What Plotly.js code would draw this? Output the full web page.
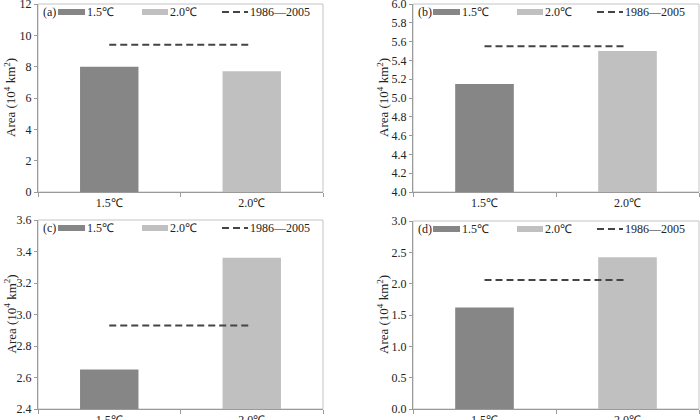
<!DOCTYPE html>
<html>
<head>
<meta charset="utf-8">
<script src="https://cdn.plot.ly/plotly-3.0.1.min.js"></script>
<style>html,body{margin:0;padding:0;background:#fff;}#chart{width:700px;height:420px;}</style>
</head>
<body>
<div id="chart"></div>
<script>
// ---- data ----
const categories = ['1.5℃', '2.0℃'];
const panelLabels = ['(a)', '(b)', '(c)', '(d)'];
const area15 = [8.0, 5.15, 2.65, 1.62];
const area20 = [7.7, 5.5, 3.36, 2.42];
const baseline = [9.4, 5.55, 2.93, 2.06];
const legendNames = ['1.5℃', '2.0℃', '1986—2005'];
const yMin = [0, 4.0, 2.4, 0.0];
const yMax = [12, 6.0, 3.6, 3.0];
const yStep = [2, 0.2, 0.2, 0.5];
const yFormat = ['d', '.1f', '.1f', '.1f'];
const yTitle = 'Area (10<sup>4</sup> km<sup>2</sup>)';

// ---- style / layout ----
const W = 700, H = 420;
const c15 = '#868686', c20 = '#c0c0c0', cLine = '#444444';
const FONT = 'Liberation Serif, Times New Roman, serif';
// plot boxes in px: [left, right, top, bottom]
const boxes = [[38, 323, 4, 192], [413, 699, 4, 192], [38, 323, 220, 409], [413, 699, 221, 409]];
const titleX = [10, 383, 10, 383];

const px = x => x / W;
const py = y => 1 - y / H;

const data = [];
const layout = {
  width: W, height: H,
  margin: {l: 0, r: 0, t: 0, b: 0},
  paper_bgcolor: '#fff', plot_bgcolor: '#fff',
  showlegend: false,
  font: {family: FONT, color: '#222', size: 11},
  shapes: [], annotations: []
};

for (let i = 0; i < 4; i++) {
  const [L, R, T, B] = boxes[i];
  const xa = i === 0 ? 'x' : 'x' + (i + 1);
  const ya = i === 0 ? 'y' : 'y' + (i + 1);
  const xk = i === 0 ? 'xaxis' : 'xaxis' + (i + 1);
  const yk = i === 0 ? 'yaxis' : 'yaxis' + (i + 1);

  data.push({
    type: 'bar', x: categories, y: [area15[i], area20[i]],
    width: 0.41,
    marker: {color: [c15, c20], line: {width: 0}},
    xaxis: xa, yaxis: ya, hoverinfo: 'none'
  });
  data.push({
    type: 'scatter', mode: 'lines', x: categories, y: [baseline[i], baseline[i]],
    line: {color: cLine, width: 2, dash: '7px,4px'},
    xaxis: xa, yaxis: ya, hoverinfo: 'none'
  });

  layout[xk] = {
    domain: [px(L), px(R)], anchor: ya, type: 'category',
    range: [-0.5, 1.5], showgrid: false, zeroline: false,
    showline: true, linecolor: '#9a9a9a', linewidth: 1,
    ticks: 'outside', tickson: 'boundaries', ticklen: 4, tickcolor: '#9a9a9a',
    ticklabeloverflow: 'allow',
    tickfont: {family: FONT, size: 12, color: '#222'}, automargin: false, fixedrange: true
  };
  layout[yk] = {
    domain: [py(B), py(T)], anchor: xa,
    range: [yMin[i], yMax[i]], dtick: yStep[i], tick0: yMin[i], tickformat: yFormat[i],
    showgrid: false, zeroline: false,
    showline: true, linecolor: '#9a9a9a', linewidth: 1,
    ticks: 'outside', ticklen: 3, tickcolor: '#9a9a9a',
    ticklabeloverflow: 'allow',
    tickfont: {family: FONT, size: 12, color: '#222'}, automargin: false, fixedrange: true
  };

  // light box top/right
  layout.shapes.push({type: 'rect', xref: 'paper', yref: 'paper',
    x0: px(L), x1: px(R), y0: py(B), y1: py(T), line: {color: '#c4c4c4', width: 1}, layer: 'below'});

  // y title
  layout.annotations.push({xref: 'paper', yref: 'paper', x: px(titleX[i]), y: py((T + B) / 2),
    text: yTitle, textangle: -90, showarrow: false, font: {family: FONT, size: 13, color: '#222'},
    xanchor: 'center', yanchor: 'middle'});

  // legend (drawn in px offsets from panel left)
  const ly = T + 8;
  layout.annotations.push({xref: 'paper', yref: 'paper', x: px(L + 3), y: py(ly), text: panelLabels[i],
    showarrow: false, xanchor: 'left', yanchor: 'middle', font: {family: FONT, size: 12, color: '#222'}});
  layout.shapes.push({type: 'rect', xref: 'paper', yref: 'paper', x0: px(L + 20), x1: px(L + 47),
    y0: py(ly + 3), y1: py(ly - 3), fillcolor: c15, line: {width: 0}});
  layout.annotations.push({xref: 'paper', yref: 'paper', x: px(L + 47), y: py(ly), text: legendNames[0],
    showarrow: false, xanchor: 'left', yanchor: 'middle', font: {family: FONT, size: 12, color: '#222'}});
  layout.shapes.push({type: 'rect', xref: 'paper', yref: 'paper', x0: px(L + 104), x1: px(L + 130),
    y0: py(ly + 3), y1: py(ly - 3), fillcolor: c20, line: {width: 0}});
  layout.annotations.push({xref: 'paper', yref: 'paper', x: px(L + 130), y: py(ly), text: legendNames[1],
    showarrow: false, xanchor: 'left', yanchor: 'middle', font: {family: FONT, size: 12, color: '#222'}});
  layout.shapes.push({type: 'line', xref: 'paper', yref: 'paper', x0: px(L + 184), x1: px(L + 210),
    y0: py(ly), y1: py(ly), line: {color: cLine, width: 2, dash: '7px,4px'}});
  layout.annotations.push({xref: 'paper', yref: 'paper', x: px(L + 210), y: py(ly), text: legendNames[2],
    showarrow: false, xanchor: 'left', yanchor: 'middle', font: {family: FONT, size: 12, color: '#222'}});
}

Plotly.newPlot('chart', data, layout, {displayModeBar: false, staticPlot: true});
</script>
</body>
</html>
